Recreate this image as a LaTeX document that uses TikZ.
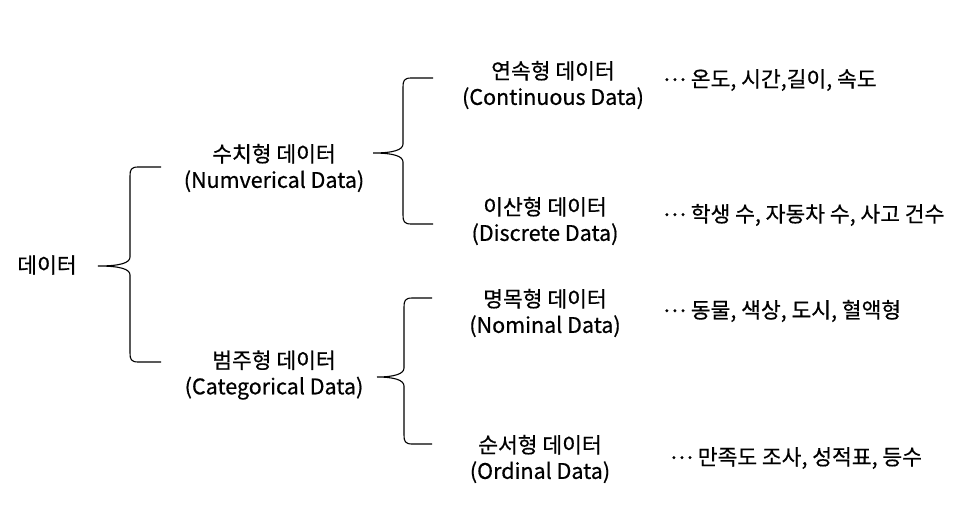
\documentclass[tikz,border=0pt]{standalone}
\usepackage{fontspec}
\setmainfont{Noto Sans CJK KR}[FakeBold=0.6]
\newcommand{\mdots}{\raisebox{6pt}{…}}
\begin{document}
\begin{tikzpicture}[x=1pt,y=-1pt,
  lbl/.style={font=\fontsize{21.5}{26}\selectfont, align=center, inner sep=0pt},
  ex/.style={font=\fontsize{21.5}{26}\selectfont, anchor=west, inner sep=0pt},
  brace/.style={draw=black, line width=1.1pt}]
\useasboundingbox (0,0) rectangle (955,528);
% braces: tip x, tip y, vertical x, top y, bottom y, arm end x
\newcommand{\mybrace}[6]{%
  \draw[brace] (#6,#4) -- (#3+8,#4) .. controls (#3+1,#4) and (#3,#4+3) .. (#3,#4+9)
    -- (#3,#2-9) .. controls (#3,#2-3) and (#3-10,#2) .. (#1,#2)
    (#3,#2+9) .. controls (#3,#2+3) and (#3-10,#2) .. (#1,#2)
    (#3,#2+9) -- (#3,#5-9) .. controls (#3,#5-3) and (#3+1,#5) .. (#3+8,#5) -- (#6,#5);}
\mybrace{98}{266}{130}{167}{362}{161}
\mybrace{373}{153}{403}{78}{224}{433}
\mybrace{377}{377}{404}{298}{444}{432}

\node[lbl] (root) at (47,265) {데이터};
\node[lbl] (num) at (274,168) {수치형 데이터\\(Numverical Data)};
\node[lbl] (cat) at (274,375) {범주형 데이터\\(Categorical Data)};
\node[lbl] (cont) at (553,85) {연속형 데이터\\(Continuous Data)};
\node[lbl] (disc) at (545,221) {이산형 데이터\\(Discrete Data)};
\node[lbl] (nom) at (545,313) {명목형 데이터\\(Nominal Data)};
\node[lbl] (ord) at (540,459) {순서형 데이터\\(Ordinal Data)};

\node[ex] (e1) at (663,80) {\mdots{} 온도, 시간,길이, 속도};
\node[ex] (e2) at (663,215) {\mdots{} 학생 수, 자동차 수, 사고 건수};
\node[ex] (e3) at (663,311) {\mdots{} 동물, 색상, 도시, 혈액형};
\node[ex] (e4) at (670,458) {\mdots{} 만족도 조사, 성적표, 등수};
\end{tikzpicture}
\end{document}
